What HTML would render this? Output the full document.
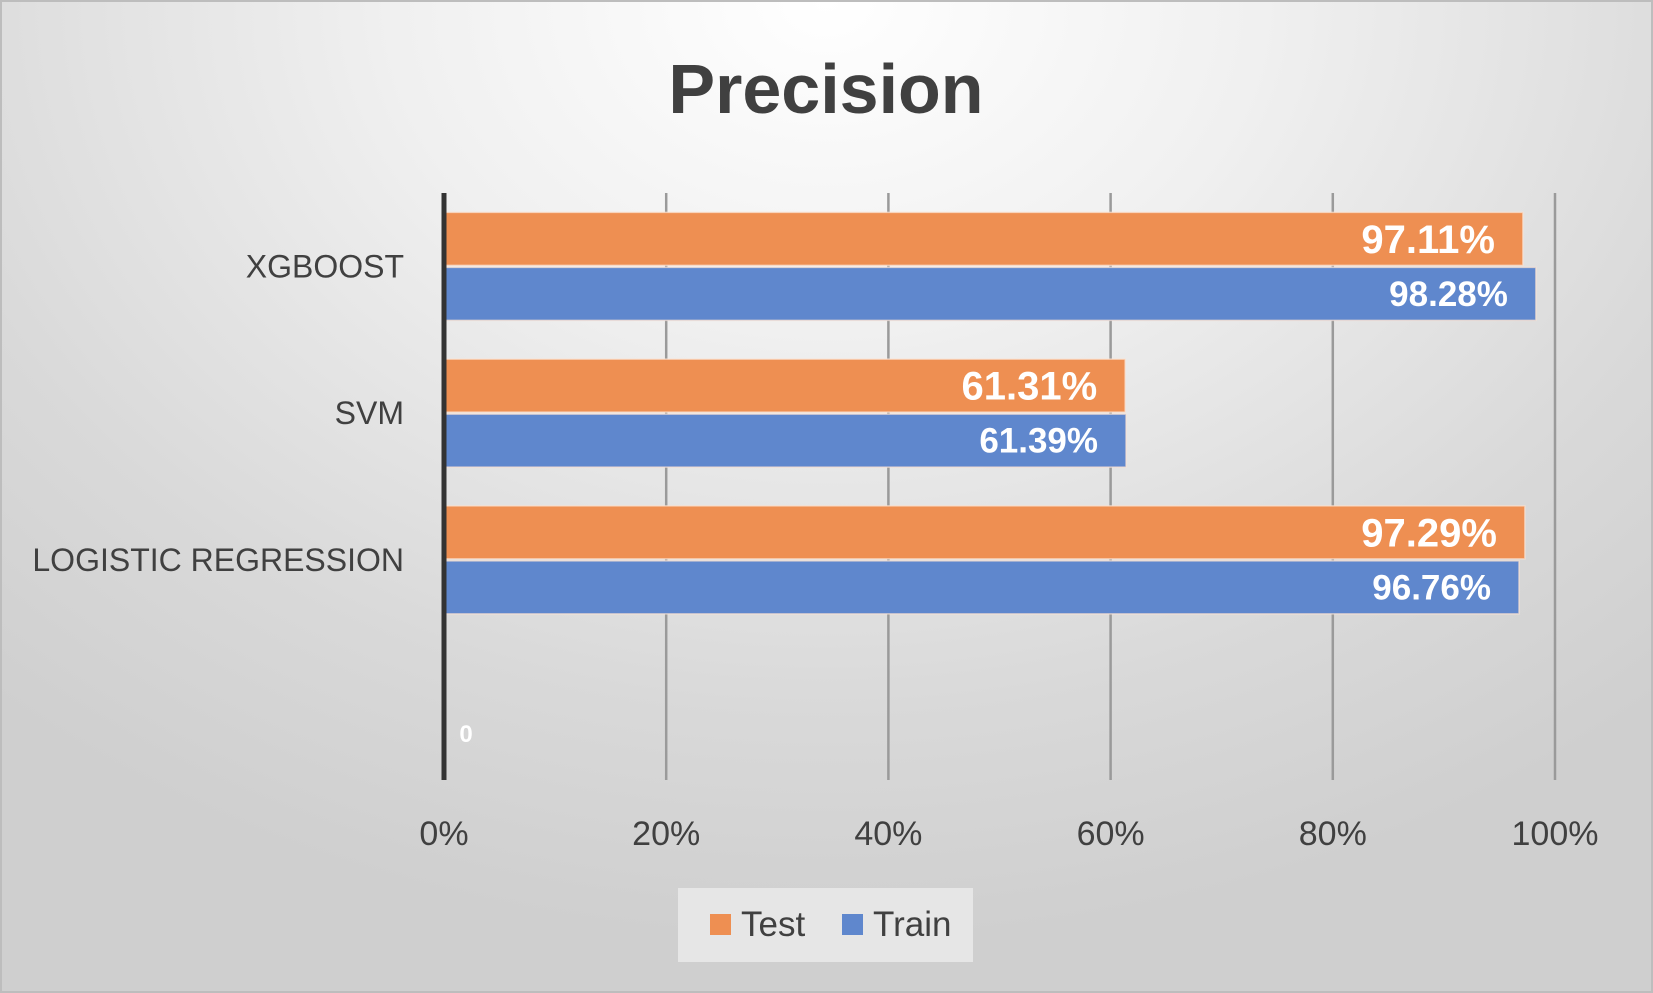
<!DOCTYPE html>
<html><head><meta charset="utf-8"><style>
body{margin:0;width:1653px;height:993px;overflow:hidden;font-family:"Liberation Sans",sans-serif}
#bg{position:absolute;left:0;top:0;width:1653px;height:993px;box-sizing:border-box;border:2px solid #bdbdbd;
background:radial-gradient(ellipse 75% 95% at 50% 0%,#ffffff 0%,#f0f0f0 35%,#d9d9d9 75%,#cfcfcf 100%)}
</style></head><body>
<div id="bg"></div>
<svg id="chart" width="1653" height="993" style="position:absolute;left:0;top:0"></svg>
<script>
const categories=["XGBOOST","SVM","LOGISTIC REGRESSION",""];
const testValues=[97.11,61.31,97.29,null];
const trainValues=[98.28,61.39,96.76,null];
const tickLabels=["0%","20%","40%","60%","80%","100%"];
const tickValues=[0,20,40,60,80,100];
const NS="http://www.w3.org/2000/svg";
const svg=document.getElementById('chart');
const x0=444,x1=1555,yTop=193,yBot=780;
const band=(yBot-yTop)/categories.length;
const xs=v=>x0+(x1-x0)*v/100;
function el(t,a,txt){const e=document.createElementNS(NS,t);for(const k in a)e.setAttribute(k,a[k]);if(txt!=null)e.textContent=txt;svg.appendChild(e);return e;}
const title=el('text',{x:826,y:113,'text-anchor':'middle','font-size':70,'font-weight':'bold',fill:'#404040'},'Precision');


tickValues.forEach((v,i)=>{
  if(i>0){const g=el('line',{x1:xs(v),x2:xs(v),y1:yTop,y2:yBot,stroke:'#9a9a9a','stroke-width':2.5});
  
  }
  const t=el('text',{x:xs(v),y:845,'text-anchor':'middle','font-size':34,fill:'#404040'},tickLabels[i]);
  
  
});
const barH=53, gap=2;
categories.forEach((c,i)=>{
  const cy=yTop+band*i+band/2;
  const lab=el('text',{x:404,y:cy+11,'text-anchor':'end','font-size':32,fill:'#404040'},c);
  
  
  [[testValues[i],'#ee8f52',cy-barH-gap/2,'test-bar'],[trainValues[i],'#5f87cd',cy+gap/2,'train-bar']].forEach(([v,col,y,nm])=>{
    if(v==null)return;
    const r=el('rect',{x:x0,y:y,width:xs(v)-x0,height:barH,fill:col,stroke:'#fbe3d3','stroke-width':1.5,'stroke-opacity':0.7});
    
    
    const big=nm==='test-bar';
    const t=el('text',{x:xs(v)-28,y:y+barH/2+(big?14:12),'text-anchor':'end','font-size':big?40:35,'font-weight':'bold',fill:'#fff'},v.toFixed(2)+'%');
    
    
  });
});
const z=el('text',{x:466,y:742,'text-anchor':'middle','font-size':24,'font-weight':'bold',fill:'#fff'},'0');


const ax=el('line',{x1:x0,x2:x0,y1:yTop,y2:yBot,stroke:'#333','stroke-width':5});


const lg=el('rect',{x:678,y:888,width:295,height:74,fill:'#e6e6e6'});


[['Test','#ee8f52',710],['Train','#5f87cd',842]].forEach(([n,c,x])=>{
  const s=el('rect',{x:x,y:914,width:21,height:21,fill:c});
  
  
  const t=el('text',{x:x+31,y:936,'font-size':35,fill:'#404040'},n);
  
  
});
</script>
</body></html>
